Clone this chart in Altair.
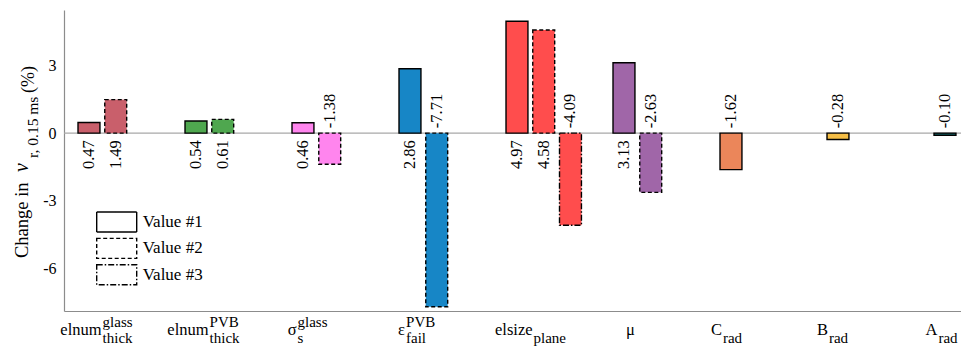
import altair as alt
import pandas as pd

# ---------------- data ----------------
cats = ["elnum_glass_thick", "elnum_PVB_thick", "sigma_glass_s", "eps_PVB_fail",
        "elsize_plane", "mu", "C_rad", "B_rad", "A_rad"]
label_main = ["elnum", "elnum", "σ", "ε", "elsize", "μ", "C", "B", "A"]
label_sup = ["glass", "PVB", "glass", "PVB", "", "", "", "", ""]
label_sub = ["thick", "thick", "s", "fail", "plane", "", "rad", "rad", "rad"]
colors = ["#C95F6B", "#4FA74F", "#FF85EE", "#1786C6", "#FF4D4D",
          "#A066A8", "#EB865A", "#F5BE46", "#0E5557"]
series = ["Value #1", "Value #2", "Value #3"]
value1 = [0.47, 0.54, 0.46, 2.86, 4.97, 3.13, -1.62, -0.28, -0.10]
value2 = [1.49, 0.61, -1.38, -7.71, 4.58, -2.63, None, None, None]
value3 = [None, None, None, None, -4.09, None, None, None, None]
y_ticks = [-6, -3, 0, 3]

# typographic fine-tuning of the composite tick labels (px)
label_nudge = [2, 2, -1, 1, 8, 1, -10, -11, -9]

FONT = "'Liberation Serif', 'Times New Roman', Times, 'DejaVu Serif', serif"
MAIN_FS = 16.5
SCRIPT_FS = 15

rows = []
for s, vals in zip(series, [value1, value2, value3]):
    for c, v in zip(cats, vals):
        if v is not None:
            rows.append({"cat": c, "series": s, "value": v, "label": f"{v:.2f}"})
bars_df = pd.DataFrame(rows)

# approximate glyph widths (em) to centre composite tick labels
W = {'a': .444, 'b': .5, 'c': .444, 'd': .5, 'e': .444, 'f': .333, 'g': .5, 'h': .5,
     'i': .278, 'k': .5, 'l': .278, 'm': .778, 'n': .5, 'p': .5, 'r': .333, 's': .389,
     't': .278, 'u': .5, 'z': .444, 'A': .722, 'B': .667, 'C': .667, 'P': .556,
     'V': .722, 'σ': .55, 'ε': .44, 'μ': .576}


def tw(t, fs):
    return sum(W.get(ch, .5) for ch in t) * fs


CENTER = 18.4  # label centre relative to the start of each category band
lab_rows = []
for c, m, sp, sb, nd in zip(cats, label_main, label_sup, label_sub, label_nudge):
    mw = tw(m, MAIN_FS)
    sw = max(tw(sp, SCRIPT_FS), tw(sb, SCRIPT_FS))
    anchor = CENTER + (mw - sw) / 2.0 + nd
    lab_rows.append({"cat": c, "main": m, "sup": sp, "sub": sb,
                     "shift": anchor, "shift2": anchor + 1.0})
lab_df = pd.DataFrame(lab_rows)
ann = pd.DataFrame({"a": [0]})

# ---------------- scales ----------------
x_enc = alt.X("cat:N", sort=cats,
              scale=alt.Scale(domain=cats, range=[0, 986.2], paddingInner=0, paddingOuter=0.1084),
              axis=alt.Axis(labels=False, ticks=False, title=None, domainColor="#8c8c8c",
                            domainWidth=1.2, grid=False))
y_scale = alt.Scale(domain=[-7.9, 5.47], nice=False, zero=False)
off_band = alt.Scale(type="band", domain=series + ["_"], paddingInner=0.18, paddingOuter=0.09)
off_point = alt.Scale(type="point", domain=series + ["_"], padding=0.5)
ident = alt.Scale(domain=[-200, 200], range=[-200, 200])

zero_rule = alt.Chart(ann).mark_rule(color="#a8a8a8", strokeWidth=1.2).encode(
    y=alt.Y(datum=0, scale=y_scale, type="quantitative",
            axis=alt.Axis(values=y_ticks, title=None, grid=False, ticks=False,
                          domainColor="#8c8c8c", domainWidth=1.2,
                          labelFont=FONT, labelFontSize=16, labelColor="black",
                          labelPadding=8, labelExpr="datum.value + ''"))
)

bars = alt.Chart(bars_df).mark_bar(stroke="black", strokeWidth=1.4).encode(
    x=x_enc,
    xOffset=alt.XOffset("series:N", scale=off_band),
    y=alt.Y("value:Q", scale=y_scale),
    fill=alt.Fill("cat:N", scale=alt.Scale(domain=cats, range=colors), legend=None),
    strokeDash=alt.StrokeDash(
        "series:N",
        scale=alt.Scale(domain=series, range=[[1, 0], [4, 2.5], [6, 2, 1.5, 2]]),
        legend=alt.Legend(title=None, orient="none", legendX=41.7, legendY=201,
                          symbolType="M-2,-1H2V1H-2Z", symbolSize=400,
                          symbolFillColor="white", symbolStrokeColor="black",
                          symbolStrokeWidth=1.4, labelFont=FONT, labelFontSize=17,
                          labelColor="black", labelOffset=15, rowPadding=0.4, padding=0)),
)

pos_lab = alt.Chart(bars_df).transform_filter("datum.value > 0").mark_text(
    angle=270, align="right", baseline="middle", dx=-7, font=FONT, fontSize=16.5, color="black"
).encode(x=x_enc, xOffset=alt.XOffset("series:N", scale=off_point),
         y=alt.Y(datum=0, type="quantitative", scale=y_scale), text="label:N")

neg_lab = alt.Chart(bars_df).transform_filter("datum.value < 0").mark_text(
    angle=270, align="left", baseline="middle", dx=5, font=FONT, fontSize=16.5, color="black"
).encode(x=x_enc, xOffset=alt.XOffset("series:N", scale=off_point),
         y=alt.Y(datum=0, type="quantitative", scale=y_scale), text="label:N")

tick_main = alt.Chart(lab_df).mark_text(
    align="right", baseline="alphabetic", font=FONT, fontSize=MAIN_FS, color="black"
).encode(x=x_enc, xOffset=alt.XOffset("shift:Q", scale=ident), y=alt.value(325), text="main:N")

tick_sup = alt.Chart(lab_df).transform_filter("datum.sup != ''").mark_text(
    align="left", baseline="alphabetic", font=FONT, fontSize=SCRIPT_FS, color="black"
).encode(x=x_enc, xOffset=alt.XOffset("shift2:Q", scale=ident), y=alt.value(317), text="sup:N")

tick_sub = alt.Chart(lab_df).transform_filter("datum.sub != ''").mark_text(
    align="left", baseline="alphabetic", font=FONT, fontSize=SCRIPT_FS, color="black"
).encode(x=x_enc, xOffset=alt.XOffset("shift2:Q", scale=ident), y=alt.value(333), text="sub:N")

# y-axis title pieces: Change in v_{r, 0.15 ms} (%)
t1 = alt.Chart(ann).mark_text(text="Change in", angle=270, align="left", baseline="alphabetic",
                              font=FONT, fontSize=18.5, color="black").encode(
    x=alt.value(-36), y=alt.value(248))
t2 = alt.Chart(ann).mark_text(text="v", angle=270, align="left", baseline="alphabetic",
                              font=FONT, fontSize=20, fontStyle="italic", color="black").encode(
    x=alt.value(-36), y=alt.value(162))
t3 = alt.Chart(ann).mark_text(text="r, 0.15 ms", angle=270, align="left", baseline="alphabetic",
                              font=FONT, fontSize=15.5, color="black").encode(
    x=alt.value(-26), y=alt.value(148))
t4 = alt.Chart(ann).mark_text(text="(%)", angle=270, align="left", baseline="alphabetic",
                              font=FONT, fontSize=18, color="black").encode(
    x=alt.value(-30), y=alt.value(83))

chart = alt.layer(
    zero_rule, bars, pos_lab, neg_lab, tick_main, tick_sup, tick_sub, t1, t2, t3, t4
).resolve_scale(xOffset="independent").properties(
    width=897, height=301,
    padding={"left": 64, "top": 10, "right": 0, "bottom": 35},
    autosize=alt.AutoSizeParams(type="none"),
    background="white",
).configure_view(stroke=None)

chart.save("out.html", embed_options={"renderer": "svg", "actions": False})
